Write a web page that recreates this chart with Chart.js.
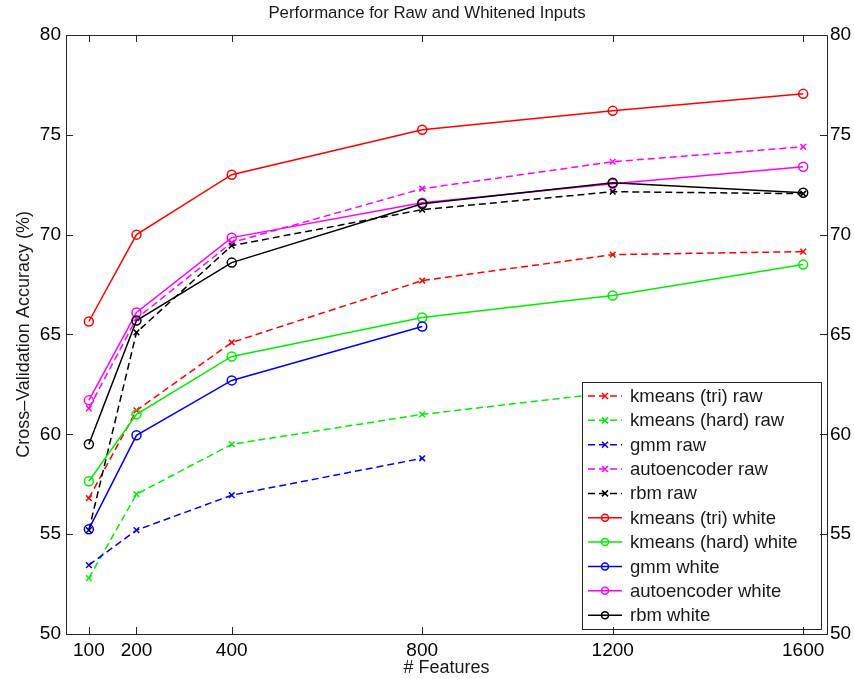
<!DOCTYPE html>
<html>
<head>
<meta charset="utf-8">
<script src="https://cdn.jsdelivr.net/npm/chart.js@4.4.1/dist/chart.umd.min.js"></script>
<style>
  html, body { margin: 0; padding: 0; background: #fff; }
</style>
</head>
<body>
<canvas id="perfChart" width="854" height="679"></canvas>
<script>
// x values (# features) and tick labels
const features = [100, 200, 400, 800, 1200, 1600];
const xTickValues = [100, 200, 400, 800, 1200, 1600];

// raw inputs (dashed, x markers)
const kmeansTriRaw  = [56.8, 61.2, 64.6, 67.7, 69.0, 69.15];
const kmeansHardRaw = [52.8, 57.0, 59.5, 61.0, 62.1, 62.4];
const gmmRaw        = [53.45, 55.2, 56.95, 58.8];
const autoencRaw    = [61.3, 65.8, 69.6, 72.3, 73.65, 74.4];
const rbmRaw        = [55.2, 65.1, 69.45, 71.25, 72.15, 72.05];

// whitened inputs (solid, o markers)
const kmeansTriWhite  = [65.65, 70.0, 73.0, 75.25, 76.2, 77.05];
const kmeansHardWhite = [57.65, 61.0, 63.9, 65.85, 66.95, 68.5];
const gmmWhite        = [55.25, 59.95, 62.7, 65.4];
const autoencWhite    = [61.7, 66.1, 69.85, 71.6, 72.55, 73.4];
const rbmWhite        = [59.5, 65.7, 68.6, 71.55, 72.6, 72.1];

const FONT = '"Liberation Sans", Arial, Helvetica, sans-serif';

function pts(vals) {
  return vals.map((v, i) => ({ x: features[i], y: v }));
}

function rawSet(label, color, vals) {
  return {
    label, data: pts(vals), borderColor: color, backgroundColor: color,
    borderWidth: 1.5, borderDash: [7, 4], pointStyle: 'crossRot',
    pointRadius: 4, pointBorderWidth: 1.5, fill: false, tension: 0
  };
}
function whiteSet(label, color, vals) {
  return {
    label, data: pts(vals), borderColor: color, backgroundColor: 'rgba(0,0,0,0)',
    borderWidth: 1.5, pointStyle: 'circle', pointRadius: 4.5,
    pointBorderWidth: 1.5, fill: false, tension: 0
  };
}

const datasets = [
  rawSet('kmeans (tri) raw', '#ff0000', kmeansTriRaw),
  rawSet('kmeans (hard) raw', '#00ee00', kmeansHardRaw),
  rawSet('gmm raw', '#0000ff', gmmRaw),
  rawSet('autoencoder raw', '#ff00ff', autoencRaw),
  rawSet('rbm raw', '#000000', rbmRaw),
  whiteSet('kmeans (tri) white', '#ff0000', kmeansTriWhite),
  whiteSet('kmeans (hard) white', '#00ee00', kmeansHardWhite),
  whiteSet('gmm white', '#0000ff', gmmWhite),
  whiteSet('autoencoder white', '#ff00ff', autoencWhite),
  whiteSet('rbm white', '#000000', rbmWhite)
];
// later series drawn on top, like matlab
datasets.forEach((d, i) => { d.order = datasets.length - i; });

// legend box inside the axes, lower right
const boxLegend = {
  id: 'boxLegend',
  afterDraw(chart) {
    const { ctx, chartArea: a } = chart;
    const w = 239, h = 247;
    const left = a.right - 6 - w, top = a.bottom - 5 - h;
    ctx.save();
    ctx.fillStyle = '#fff';
    ctx.fillRect(left, top, w, h);
    ctx.strokeStyle = '#262626';
    ctx.lineWidth = 1;
    ctx.strokeRect(left + 0.5, top + 0.5, w, h);
    const rowH = 24.35;
    ctx.font = '18.5px ' + FONT;
    ctx.textBaseline = 'middle';
    chart.data.datasets.forEach((d, i) => {
      const y = top + 14 + i * rowH;
      ctx.strokeStyle = d.borderColor;
      ctx.lineWidth = d.borderWidth;
      ctx.setLineDash(d.borderDash || []);
      ctx.beginPath();
      ctx.moveTo(left + 6, y);
      ctx.lineTo(left + 40, y);
      ctx.stroke();
      ctx.setLineDash([]);
      const mx = left + 23;
      ctx.beginPath();
      if (d.pointStyle === 'crossRot') {
        ctx.moveTo(mx - 3, y - 3); ctx.lineTo(mx + 3, y + 3);
        ctx.moveTo(mx - 3, y + 3); ctx.lineTo(mx + 3, y - 3);
      } else {
        ctx.arc(mx, y, 3.5, 0, Math.PI * 2);
      }
      ctx.stroke();
      ctx.fillStyle = '#1a1a1a';
      ctx.fillText(d.label, left + 48, y + 1);
    });
    ctx.restore();
  }
};

// box frame with inward ticks on all four sides
const frameTicks = {
  id: 'frameTicks',
  afterDraw(chart) {
    const { ctx, chartArea: a, scales } = chart;
    const len = 7;
    ctx.save();
    ctx.strokeStyle = '#262626';
    ctx.lineWidth = 1;
    ctx.beginPath();
    ctx.rect(Math.round(a.left) + 0.5, Math.round(a.top) + 0.5,
             Math.round(a.right - a.left), Math.round(a.bottom - a.top));
    scales.x.ticks.forEach(t => {
      const px = Math.round(scales.x.getPixelForValue(t.value)) + 0.5;
      ctx.moveTo(px, a.bottom); ctx.lineTo(px, a.bottom - len);
      ctx.moveTo(px, a.top); ctx.lineTo(px, a.top + len);
    });
    scales.y.ticks.forEach(t => {
      const py = Math.round(scales.y.getPixelForValue(t.value)) + 0.5;
      ctx.moveTo(a.left, py); ctx.lineTo(a.left + len, py);
      ctx.moveTo(a.right, py); ctx.lineTo(a.right - len, py);
    });
    ctx.stroke();
    ctx.restore();
  }
};

new Chart(document.getElementById('perfChart').getContext('2d'), {
  type: 'line',
  data: { datasets },
  plugins: [boxLegend, frameTicks],
  options: {
    responsive: false,
    animation: false,
    devicePixelRatio: 1,
    layout: { padding: 0 },
    plugins: {
      legend: { display: false },
      tooltip: { enabled: false },
      title: {
        display: true,
        text: 'Performance for Raw and Whitened Inputs',
        color: '#1a1a1a',
        font: { family: FONT, size: 16.8, weight: 'normal', lineHeight: 1.2 },
        padding: { top: 3, bottom: 11.8 }
      }
    },
    scales: {
      x: {
        type: 'linear',
        min: 52,
        max: 1650,
        grid: { display: false, drawTicks: false },
        border: { display: false },
        afterBuildTicks: s => { s.ticks = xTickValues.map(v => ({ value: v })); },
        afterFit: s => { s.height = 45; },
        ticks: {
          color: '#000', padding: 5, maxRotation: 0, autoSkip: false,
          font: { family: FONT, size: 19 },
          callback: v => String(v)
        },
        title: {
          display: true, text: '# Features', color: '#1a1a1a',
          font: { family: FONT, size: 18 }, padding: { top: 0, bottom: 0 }
        }
      },
      y: {
        position: 'left',
        min: 50, max: 80,
        grid: { display: false, drawTicks: false },
        border: { display: false },
        afterFit: s => { s.width = 66; },
        ticks: { stepSize: 5, color: '#000', padding: 5, font: { family: FONT, size: 19 } },
        title: {
          display: true, text: 'Cross\u2013Validation Accuracy (%)', color: '#1a1a1a',
          font: { family: FONT, size: 18 }, padding: { top: 13, bottom: 0 }
        }
      },
      y2: {
        position: 'right',
        min: 50, max: 80,
        grid: { display: false, drawTicks: false },
        border: { display: false },
        afterFit: s => { s.width = 27; },
        ticks: { stepSize: 5, color: '#000', padding: 3, font: { family: FONT, size: 19 } }
      }
    }
  }
});
</script>
</body>
</html>
